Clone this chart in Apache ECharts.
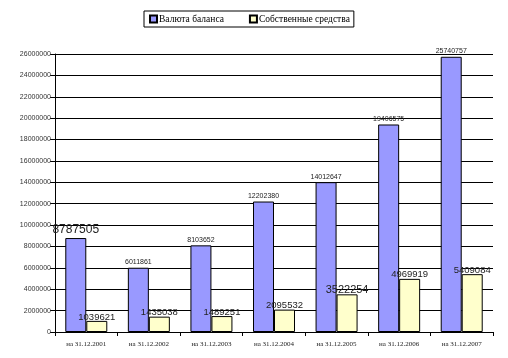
<!DOCTYPE html>
<html>
<head>
<meta charset="utf-8">
<script src="https://cdn.jsdelivr.net/npm/echarts@6/dist/echarts.min.js"></script>
<style>html,body{margin:0;padding:0;background:#fff}#c{width:508px;height:358px}</style>
</head>
<body>
<div id="c"></div>
<script>
const categories = ['на 31.12.2001','на 31.12.2002','на 31.12.2003','на 31.12.2004','на 31.12.2005','на 31.12.2006','на 31.12.2007'];
const seriesNames = ['Валюта баланса','Собственные средства'];
const balanceValues = [8787505, 6011861, 8103652, 12202380, 14012647, 19406575, 25740757];
const equityValues = [1039621, 1435038, 1489251, 2095532, 3522254, 4969919, 5409084];
const yTicks = [0, 2000000, 4000000, 6000000, 8000000, 10000000, 12000000, 14000000, 16000000, 18000000, 20000000, 22000000, 24000000, 26000000];

// label font sizes (style only)
const balanceLabelSizes = [12, 7, 7, 7, 7, 7, 7];
const equityLabelSizes = [9.5, 9.5, 9.5, 9.5, 11, 9.5, 9.5];

function buildData(vals, sizes, dist) {
  return vals.map((v, i) => ({
    value: v,
    label: { fontSize: sizes[i], distance: dist }
  }));
}

const chart = echarts.init(document.getElementById('c'), null, {renderer: 'canvas'});
chart.setOption({
  animation: false,
  backgroundColor: '#fff',
  legend: {
    data: seriesNames,
    left: 144, top: 11,
    padding: [3, 4, 3, 5],
    itemWidth: 7, itemHeight: 7, itemGap: 25,
    borderColor: '#000', borderWidth: 1,
    textStyle: { fontFamily: 'Liberation Serif', fontSize: 9.5, color: '#000', padding: [0,0,0,-3] },
    icon: 'rect'
  },
  grid: { left: 55, right: 15, top: 54, bottom: 26, containLabel: false },
  xAxis: {
    type: 'category',
    data: categories,
    axisLine: { lineStyle: { color: '#000', width: 1 } },
    axisTick: { show: true, length: 4, inside: false, lineStyle: { color: '#000' } },
    axisLabel: { fontFamily: 'Liberation Serif', fontSize: 7, color: '#222', margin: 9, interval: 0 },
    splitLine: { show: false }
  },
  yAxis: {
    type: 'value',
    min: yTicks[0], max: yTicks[yTicks.length - 1], interval: 2000000,
    axisLine: { show: true, lineStyle: { color: '#000', width: 1 } },
    axisTick: { show: true, length: 5, lineStyle: { color: '#000' } },
    axisLabel: { fontFamily: 'Liberation Sans', fontSize: 7, color: '#333', margin: 4, formatter: v => String(v) },
    splitLine: { show: true, lineStyle: { color: '#000', width: 1 } }
  },
  series: [
    {
      name: seriesNames[0],
      type: 'bar',
      data: buildData(balanceValues, balanceLabelSizes, 2),
      barWidth: 21,
      barGap: '0%',
      itemStyle: { color: '#9999FF', borderColor: '#000', borderWidth: 1 },
      label: { show: true, position: 'top', fontFamily: 'Liberation Sans', color: '#222' }
    },
    {
      name: seriesNames[1],
      type: 'bar',
      data: buildData(equityValues, equityLabelSizes, -1),
      barWidth: 21,
      barGap: '0%',
      itemStyle: { color: '#FFFFCC', borderColor: '#000', borderWidth: 1 },
      label: { show: true, position: 'top', fontFamily: 'Liberation Sans', color: '#222' }
    }
  ]
});
</script>
</body>
</html>
